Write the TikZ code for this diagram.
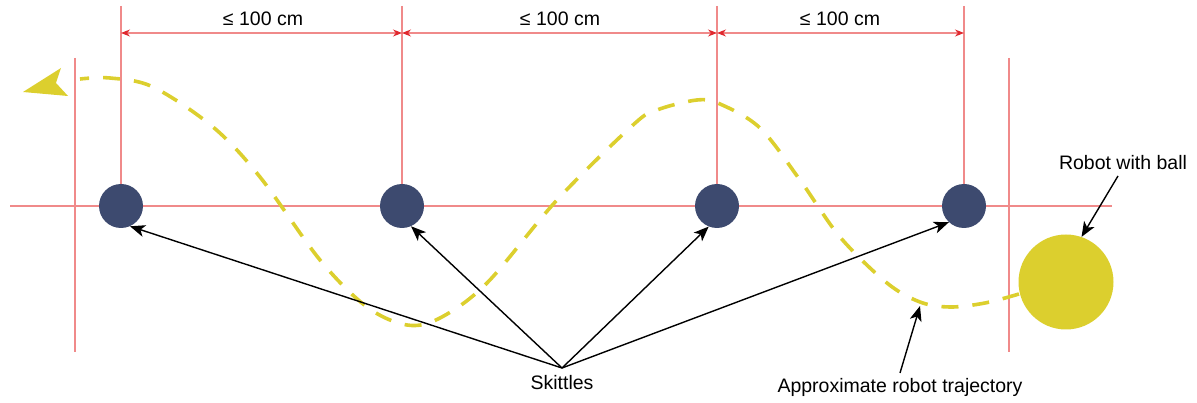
\documentclass[tikz,border=0pt]{standalone}
\usepackage{fontspec}
\setmainfont{Liberation Sans}
\usetikzlibrary{arrows.meta}
\definecolor{guide}{HTML}{F08A8A}
\definecolor{dimred}{HTML}{E0282E}
\definecolor{skittle}{HTML}{3D4A6F}
\definecolor{robot}{HTML}{DCCF2E}
\begin{document}
\begin{tikzpicture}[x=1pt,y=-1pt,
  guideline/.style={draw=guide,line width=1.1pt},
  dimline/.style={draw=guide,line width=1.1pt,{Stealth[length=9pt,width=7pt,color=dimred]}-{Stealth[length=9pt,width=7pt,color=dimred]}},
  lbl/.style={font=\fontsize{19.5}{22}\selectfont,inner sep=0pt},
  skit/.style={circle,fill=skittle,minimum size=44pt,inner sep=0pt},
  robotball/.style={circle,fill=robot,minimum size=95pt,inner sep=0pt},
  pointer/.style={draw=black,line width=1.4pt,-{Stealth[length=15pt,width=12pt,inset=4pt]}},
  traj/.style={draw=robot,line width=3.6pt,dash pattern=on 17pt off 14pt}
]
\useasboundingbox (0,0) rectangle (1197,403);
% guide lines
\draw[guideline] (10,206) -- (1112,206);
\draw[guideline] (75,58) -- (75,352);
\draw[guideline] (1009,58) -- (1009,352);
\foreach \x in {121,402,717,964} \draw[guideline] (\x,6) -- (\x,206);
% dimensions
\coordinate (d1) at (121,33);
\coordinate (d2) at (402,33);
\coordinate (d3) at (717,33);
\coordinate (d4) at (964,33);
\draw[dimline] (d1) -- (d2);
\draw[dimline] (d2) -- (d3);
\draw[dimline] (d3) -- (d4);
\node[lbl] (l1) at (263,19) {≤ 100 cm};
\node[lbl] (l2) at (560,19) {≤ 100 cm};
\node[lbl] (l3) at (840,19) {≤ 100 cm};
% trajectory
\draw[traj] plot[smooth,tension=0.55] coordinates {(1019,294) (985,303) (950,307) (920,302) (887,283) (840,237) (800,180) (760,128) (720,104) (697,100) (657,110) (633,125) (557,200) (487,283) (440,318) (407,325) (367,307) (320,260) (260,177) (213,127) (153,87) (110,78) (80,79)};
\fill[robot] (23,92) -- (61,68) -- (56,83) -- (68,96) -- cycle;
% skittles and robot
\node[skit] (s1) at (121,206) {};
\node[skit] (s2) at (402,206) {};
\node[skit] (s3) at (717,206) {};
\node[skit] (s4) at (964,206) {};
\node[robotball] (rb) at (1066,282) {};
% labels
\node[lbl] (sk) at (562,383) {Skittles};
\coordinate (hub) at (562,368);
\draw[pointer] (hub) -- (s1.294);
\draw[pointer] (hub) -- (s2.294);
\draw[pointer] (hub) -- (s3.248);
\draw[pointer] (hub) -- (s4.227);
\node[lbl] (rl) at (1123,163) {Robot with ball};
\coordinate (rs) at (1118,176);
\draw[pointer] (rs) -- (rb.71);
\node[lbl] (tl) at (900,387) {Approximate robot trajectory};
\coordinate (ts) at (900,373);
\coordinate (te) at (920,306);
\draw[pointer] (ts) -- (te);
\end{tikzpicture}
\end{document}
